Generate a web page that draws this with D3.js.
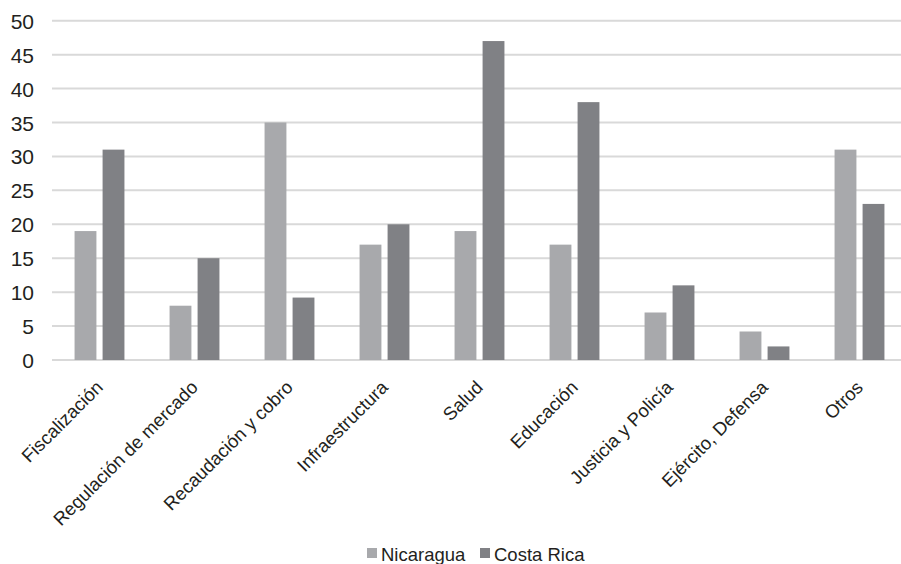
<!DOCTYPE html>
<html>
<head>
<meta charset="utf-8">
<script src="https://cdn.jsdelivr.net/npm/d3@7"></script>
<style>
  html, body { margin: 0; padding: 0; background: #ffffff; }
  svg { display: block; }
  text { font-family: "Liberation Sans", Arial, Helvetica, sans-serif; fill: #231f20; }
</style>
</head>
<body>
<svg id="chart" width="901" height="564"></svg>
<script>
const categories = ["Fiscalización", "Regulación de mercado", "Recaudación y cobro", "Infraestructura", "Salud", "Educación", "Justicia y Policía", "Ejército, Defensa", "Otros"];
const seriesNames = ["Nicaragua", "Costa Rica"];
const nicaragua = [19, 8, 35, 17, 19, 17, 7, 4.2, 31];
const costaRica = [31, 15, 9.2, 20, 47, 38, 11, 2, 23];
const yTicks = [0, 5, 10, 15, 20, 25, 30, 35, 40, 45, 50];
const colors = ["#a8a9ac", "#808185"];

const seriesValues = [nicaragua, costaRica];
const svg = d3.select("#chart");

const plot = { left: 52, right: 907, top: 20.7, bottom: 360 };

const x0 = d3.scaleBand().domain(categories).range([plot.left, plot.right])
  .paddingInner(0.475).paddingOuter(0.2375);
const x1 = d3.scaleBand().domain(seriesNames).range([0, x0.bandwidth()]).paddingInner(0.22);
const y = d3.scaleLinear().domain([0, 50]).range([plot.bottom, plot.top]);

// gridlines
svg.append("g").selectAll("line").data(yTicks).join("line")
  .attr("x1", plot.left).attr("x2", 901)
  .attr("y1", d => y(d)).attr("y2", d => y(d))
  .attr("stroke", "#d9d9d9").attr("stroke-width", 2);

// y axis labels
const yAxis = d3.axisLeft(y).tickValues(yTicks).tickSize(0).tickPadding(0);
const gy = svg.append("g").attr("transform", `translate(${plot.left - 18},0)`).call(yAxis);
gy.select(".domain").remove();
gy.selectAll("text").style("font-size", "21px").attr("dy", "0.36em")
  .style("font-family", "'Liberation Sans', Arial, sans-serif").attr("fill", "#231f20");

// bars
const groups = svg.append("g").selectAll("g").data(categories).join("g")
  .attr("transform", d => `translate(${x0(d)},0)`);
groups.selectAll("rect").data((d, i) => seriesNames.map((s, j) => ({ s, v: seriesValues[j][i], j })))
  .join("rect")
  .attr("x", d => x1(d.s))
  .attr("width", x1.bandwidth())
  .attr("y", d => y(d.v))
  .attr("height", d => y(0) - y(d.v))
  .attr("fill", d => colors[d.j]);

// x axis labels
const xAxis = d3.axisBottom(x0).tickSize(0).tickPadding(0);
const gx = svg.append("g").attr("transform", `translate(0,${plot.bottom})`).call(xAxis);
gx.select(".domain").remove();
gx.selectAll(".tick text")
  .style("font-size", "18.5px")
  .style("font-family", "'Liberation Sans', Arial, sans-serif")
  .attr("fill", "#231f20")
  .attr("text-anchor", "end")
  .attr("dy", "0.35em")
  .attr("transform", "translate(0,24) rotate(-45)");

// legend
const legend = svg.append("g");
const legendItems = [{ name: seriesNames[0], x: 367 }, { name: seriesNames[1], x: 480 }];
legendItems.forEach((it, i) => {
  legend.append("rect").attr("x", it.x).attr("y", 548).attr("width", 10).attr("height", 10).attr("fill", colors[i]);
  legend.append("text").attr("x", it.x + 14).attr("y", 561)
    .style("font-size", "18.5px").text(it.name);
});
</script>
</body>
</html>
